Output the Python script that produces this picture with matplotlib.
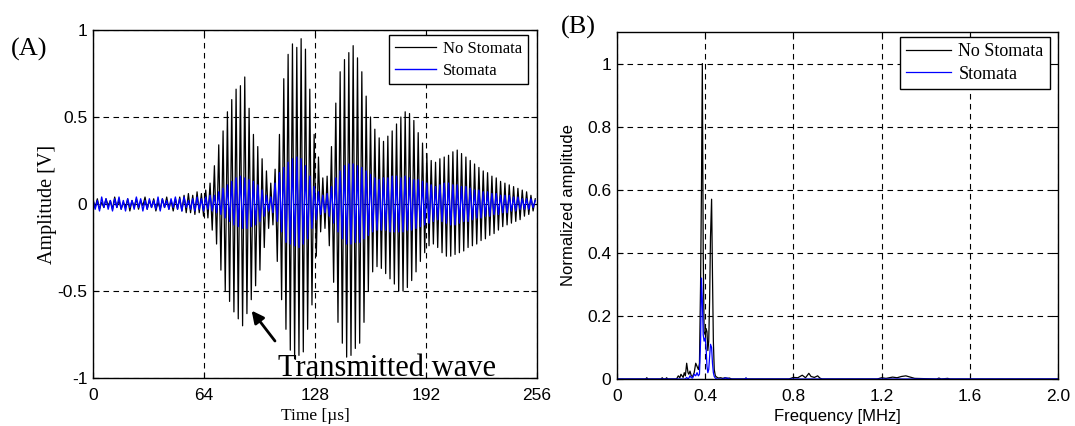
import numpy as np
import matplotlib
matplotlib.use("Agg")
import matplotlib.pyplot as plt

# ---------------- data: time-domain waveforms (half-cycle extremes) ----------------
half_cycle_us = 1.25  # spacing between successive extremes, µs

black_pos = [0.02, 0.03, 0.01, 0.03, 0.02, 0.04, 0.02, 0.01, 0.03, 0.02,
             0.03, 0.02, 0.04, 0.02, 0.03, 0.01, 0.03, 0.04, 0.02, 0.03,
             0.04, 0.05, 0.06, 0.05, 0.07, 0.06, 0.08, 0.12, 0.22, 0.34,
             0.42, 0.53, 0.60, 0.66, 0.68, 0.73, 0.55, 0.40, 0.33, 0.26,
             0.19, 0.12, 0.20, 0.40, 0.72, 0.86, 0.92, 0.90, 0.95, 0.89,
             0.66, 0.40, 0.27, 0.15, 0.16, 0.33, 0.58, 0.76, 0.83, 0.87,
             0.91, 0.84, 0.76, 0.62, 0.50, 0.43, 0.38, 0.36, 0.39, 0.42,
             0.46, 0.50, 0.53, 0.52, 0.48, 0.41, 0.35, 0.29, 0.25, 0.24,
             0.26, 0.27, 0.28, 0.30, 0.31, 0.29, 0.27, 0.25, 0.23, 0.21,
             0.19, 0.18, 0.16, 0.15, 0.13, 0.12, 0.11, 0.10, 0.09, 0.08,
             0.07, 0.05, 0.03]
black_neg = [-0.02, -0.03, -0.02, -0.01, -0.03, -0.02, -0.03, -0.02, -0.04, -0.02,
             -0.03, -0.01, -0.03, -0.02, -0.04, -0.03, -0.02, -0.03, -0.04, -0.03,
             -0.04, -0.05, -0.05, -0.06, -0.05, -0.07, -0.08, -0.15, -0.23, -0.38,
             -0.50, -0.56, -0.62, -0.66, -0.70, -0.63, -0.55, -0.47, -0.38, -0.25,
             -0.14, -0.12, -0.33, -0.55, -0.72, -0.84, -0.89, -0.87, -0.85, -0.72,
             -0.58, -0.30, -0.16, -0.14, -0.24, -0.45, -0.68, -0.80, -0.88, -0.87,
             -0.83, -0.80, -0.68, -0.50, -0.39, -0.36, -0.37, -0.40, -0.43, -0.46,
             -0.50, -0.50, -0.48, -0.44, -0.39, -0.33, -0.28, -0.24, -0.23, -0.25,
             -0.28, -0.30, -0.30, -0.29, -0.28, -0.27, -0.25, -0.24, -0.23, -0.21,
             -0.20, -0.18, -0.17, -0.15, -0.13, -0.12, -0.11, -0.10, -0.09, -0.07,
             -0.06, -0.04]

blue_pos = [0.03, 0.02, 0.04, 0.03, 0.02, 0.03, 0.04, 0.02, 0.03, 0.02,
            0.04, 0.03, 0.02, 0.03, 0.02, 0.04, 0.03, 0.02, 0.03, 0.04,
            0.03, 0.04, 0.02, 0.03, 0.04, 0.03, 0.04, 0.05, 0.05, 0.07,
            0.09, 0.11, 0.13, 0.15, 0.16, 0.15, 0.14, 0.13, 0.11, 0.08,
            0.05, 0.04, 0.12, 0.18, 0.21, 0.24, 0.26, 0.27, 0.26, 0.22,
            0.16, 0.10, 0.07, 0.05, 0.06, 0.10, 0.15, 0.19, 0.22, 0.23,
            0.23, 0.22, 0.21, 0.19, 0.17, 0.15, 0.14, 0.15, 0.15, 0.16,
            0.16, 0.15, 0.16, 0.15, 0.14, 0.14, 0.13, 0.12, 0.11, 0.10,
            0.11, 0.12, 0.12, 0.11, 0.11, 0.10, 0.10, 0.09, 0.08, 0.08,
            0.07, 0.07, 0.06, 0.06, 0.05, 0.05, 0.05, 0.04, 0.04, 0.03,
            0.03, 0.03, 0.02]
blue_neg = [-0.03, -0.04, -0.02, -0.03, -0.04, -0.02, -0.03, -0.04, -0.02, -0.03,
            -0.02, -0.04, -0.03, -0.02, -0.03, -0.04, -0.02, -0.03, -0.02, -0.03,
            -0.04, -0.02, -0.03, -0.04, -0.03, -0.04, -0.03, -0.04, -0.05, -0.06,
            -0.08, -0.10, -0.12, -0.13, -0.14, -0.14, -0.13, -0.12, -0.10, -0.07,
            -0.04, -0.05, -0.10, -0.16, -0.22, -0.23, -0.24, -0.25, -0.23, -0.20,
            -0.14, -0.09, -0.06, -0.05, -0.07, -0.11, -0.16, -0.20, -0.23, -0.23,
            -0.22, -0.22, -0.20, -0.18, -0.16, -0.15, -0.15, -0.15, -0.16, -0.16,
            -0.16, -0.16, -0.15, -0.15, -0.14, -0.13, -0.12, -0.11, -0.10, -0.09,
            -0.10, -0.11, -0.12, -0.12, -0.11, -0.10, -0.10, -0.09, -0.08, -0.08,
            -0.07, -0.07, -0.06, -0.06, -0.05, -0.05, -0.04, -0.04, -0.03, -0.03,
            -0.03, -0.02]

time_ticks = [0, 64, 128, 192, 256]
amp_ticks = [-1, -0.5, 0, 0.5, 1]
amp_ticklabels = ["-1", "-0.5", "0", "0.5", "1"]

# ---------------- data: spectra ----------------
spec_freq = [0.000, 0.130, 0.135, 0.140, 0.200, 0.205, 0.210, 0.220, 0.225, 0.230,
             0.270, 0.278, 0.285, 0.290, 0.300, 0.305, 0.310, 0.316, 0.322, 0.326,
             0.331, 0.337, 0.343, 0.350, 0.357, 0.363, 0.369, 0.374, 0.379, 0.383,
             0.387, 0.391, 0.395, 0.400, 0.404, 0.408, 0.412, 0.416, 0.420, 0.424,
             0.429, 0.433, 0.437, 0.441, 0.446, 0.452, 0.460, 0.470, 0.480, 0.490,
             0.500, 0.510, 0.520, 0.580, 0.585, 0.590, 0.780, 0.800, 0.820, 0.840,
             0.855, 0.870, 0.880, 0.895, 0.910, 0.920, 0.930, 1.180, 1.200, 1.220,
             1.250, 1.270, 1.290, 1.310, 1.330, 1.350, 1.450, 1.460, 1.470, 1.500,
             1.510, 2.000]
spec_nostomata = [0, 0, 0.004, 0, 0, 0.004, 0, 0, 0.004, 0,
                  0, 0.010, 0.004, 0.015, 0.005, 0.020, 0.010, 0.050, 0.020, 0.015,
                  0.025, 0.010, 0.008, 0.020, 0.050, 0.040, 0.030, 0.050, 0.300, 0.600,
                  1.000, 0.400, 0.150, 0.140, 0.160, 0.150, 0.090, 0.120, 0.250, 0.450,
                  0.570, 0.330, 0.120, 0.030, 0.010, 0.006, 0.003, 0.004, 0.002, 0.004,
                  0.002, 0.003, 0, 0, 0.003, 0, 0, 0.005, 0.004, 0.012,
                  0.004, 0.018, 0.008, 0.005, 0.010, 0.003, 0, 0, 0.004, 0.002,
                  0.006, 0.004, 0.008, 0.010, 0.006, 0.002, 0, 0.003, 0, 0.002,
                  0, 0]
spec_stomata = [0, 0, 0, 0, 0, 0, 0, 0, 0, 0,
                0, 0, 0, 0, 0, 0, 0, 0.005, 0, 0.003,
                0.010, 0.004, 0.003, 0.015, 0.010, 0.020, 0.010, 0.015, 0.120, 0.320,
                0.250, 0.140, 0.120, 0.130, 0.100, 0.040, 0.020, 0.030, 0.070, 0.110,
                0.100, 0.050, 0.020, 0.008, 0.003, 0, 0, 0, 0, 0.003,
                0.003, 0, 0, 0, 0.003, 0, 0, 0, 0, 0,
                0, 0, 0, 0, 0, 0, 0, 0, 0, 0,
                0, 0, 0, 0, 0, 0, 0, 0, 0, 0,
                0, 0]

freq_ticks = [0, 0.4, 0.8, 1.2, 1.6, 2.0]
freq_ticklabels = ["0", "0.4", "0.8", "1.2", "1.6", "2.0"]
norm_ticks = [0, 0.2, 0.4, 0.6, 0.8, 1.0]
norm_ticklabels = ["0", "0.2", "0.4", "0.6", "0.8", "1"]


def interleave(pos, neg):
    out = np.empty(len(pos) + len(neg))
    out[0::2] = pos
    out[1::2] = neg
    return out


black_wave = interleave(black_pos, black_neg)
blue_wave = interleave(blue_pos, blue_neg)
t_black = np.arange(len(black_wave)) * half_cycle_us
t_blue = np.arange(len(blue_wave)) * half_cycle_us

# ---------------- figure ----------------
W, H = 1075, 426
fig = plt.figure(figsize=(W / 100, H / 100), dpi=100)
serif = ["Liberation Serif", "DejaVu Serif"]
sans = ["Liberation Sans", "DejaVu Sans"]
plt.rcParams["font.family"] = sans

grid_kw = dict(color="k", linestyle=(0, (5, 4)), linewidth=0.8)


def style_axes(ax):
    for s in ax.spines.values():
        s.set_linewidth(1.0)
    ax.tick_params(direction="in", top=True, right=True, length=4, width=0.8,
                   labelsize=12.5)
    ax.tick_params(axis="x", pad=7)
    ax.tick_params(axis="y", pad=4)
    ax.grid(True, **grid_kw)
    ax.set_axisbelow(True)


# ---- panel A ----
ax1 = fig.add_axes([93 / W, (H - 378) / H, 444 / W, 348 / H])
ax1.plot(t_black, black_wave, color="k", lw=0.9, label="No Stomata")
ax1.plot(t_blue, blue_wave, color="#0000ff", lw=1.0, label="Stomata")
ax1.set_xlim(0, 256)
ax1.set_ylim(-1, 1)
ax1.set_xticks(time_ticks)
ax1.set_yticks(amp_ticks)
ax1.set_yticklabels(amp_ticklabels)
style_axes(ax1)
ax1.set_xlabel("Time [\u00b5s]", family=serif, fontsize=12.5, labelpad=4)
ax1.set_ylabel("Amplitude [V]", family=serif, fontsize=14.5, labelpad=0)
leg1 = ax1.legend(loc="upper right", bbox_to_anchor=(0.98, 0.986), borderaxespad=0,
                  prop={"family": serif, "size": 12}, fancybox=False,
                  edgecolor="k", framealpha=1, handlelength=2.5, borderpad=0.35,
                  labelspacing=0.35, handletextpad=0.4)
leg1.get_frame().set_linewidth(1.0)
ax1.annotate("", xy=(90.5, -0.60), xytext=(105.9, -0.80),
             arrowprops=dict(arrowstyle="-|>", color="k", lw=2, mutation_scale=18))
ax1.text(106.5, -0.99, "Transmitted wave", family=serif, fontsize=22,
         ha="left", va="baseline")

# ---- panel B ----
ax2 = fig.add_axes([617 / W, (H - 379) / H, 441 / W, 347 / H])
ax2.plot(spec_freq, spec_nostomata, color="k", lw=0.9, label="No Stomata")
ax2.plot(spec_freq, spec_stomata, color="#0000ff", lw=0.9, label="Stomata")
ax2.set_xlim(0, 2.0)
ax2.set_ylim(0, 1.1)
ax2.set_xticks(freq_ticks)
ax2.set_xticklabels(freq_ticklabels)
ax2.set_yticks(norm_ticks)
ax2.set_yticklabels(norm_ticklabels)
style_axes(ax2)
ax2.set_xlabel("Frequency [MHz]", fontsize=12, labelpad=4)
ax2.set_ylabel("Normalized amplitude", fontsize=12, labelpad=8)
leg2 = ax2.legend(loc="upper right", bbox_to_anchor=(0.982, 0.986), borderaxespad=0,
                  prop={"family": serif, "size": 13}, fancybox=False,
                  edgecolor="k", framealpha=1, handlelength=2.5, borderpad=0.35,
                  labelspacing=0.3, handletextpad=0.4)
leg2.get_frame().set_linewidth(1.0)

fig.text(29 / W, 1 - 49 / H, "(A)", family=serif, fontsize=19, ha="center", va="center")
fig.text(578 / W, 1 - 27 / H, "(B)", family=serif, fontsize=19, ha="center", va="center")

fig.savefig("out.png", dpi=100)
